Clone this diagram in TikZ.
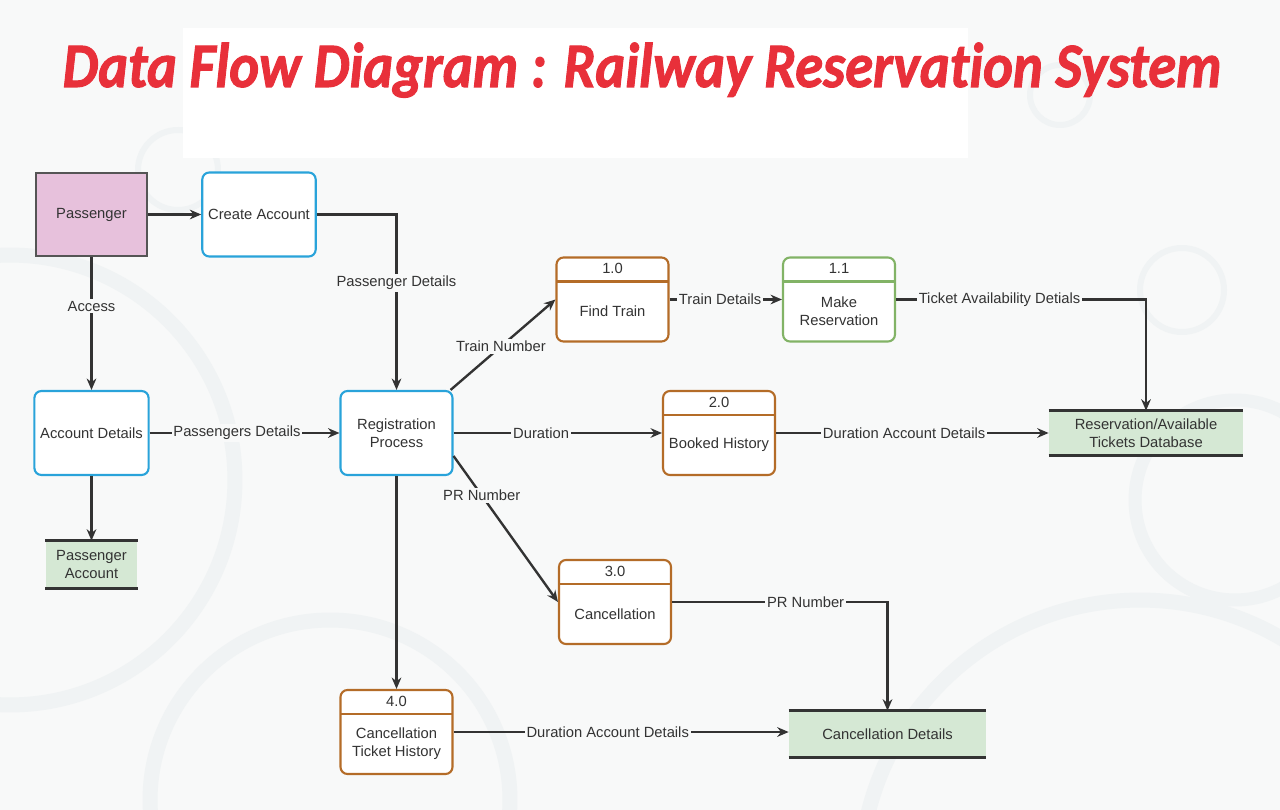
\documentclass[tikz,border=0pt]{standalone}
\usepackage{fontspec}
\setmainfont{Liberation Sans}
\newfontfamily\titlefont[Ligatures=NoCommon, FakeBold=1.6]{Carlito}
\usetikzlibrary{arrows.meta, positioning, calc}
\definecolor{pagebg}{RGB}{248, 249, 249}
\definecolor{ringcol}{RGB}{240, 243, 244}
\definecolor{titlered}{RGB}{232, 48, 58}
\definecolor{textcol}{RGB}{51, 51, 51}
\definecolor{arrowcol}{RGB}{51, 51, 51}
\definecolor{extfill}{RGB}{231, 193, 220}
\definecolor{extborder}{RGB}{85, 85, 85}
\definecolor{procblue}{RGB}{41, 163, 218}
\definecolor{procorange}{RGB}{180, 108, 40}
\definecolor{procgreen}{RGB}{130, 179, 102}
\definecolor{storefill}{RGB}{213, 232, 212}

\begin{document}
\begin{tikzpicture}[
    x=0.02cm, y=-0.02cm,
    >={Stealth[length=6.5pt, width=5.5pt]},
    font=\fontsize{8.4}{10.2}\selectfont,
    every node/.style={text=textcol},
    flow/.style={->, line width=1.35pt, draw=arrowcol},
    flowlabel/.style={fill=pagebg, inner sep=1pt},
    ring/.style={draw=ringcol, line width=#1},
    extentity/.style={rectangle, draw=extborder, fill=extfill, line width=1.2pt,
                      minimum width=2.22cm, minimum height=1.66cm, align=center},
    procbox/.style={rectangle, rounded corners=0.14cm, draw=procblue, fill=white,
                    line width=1.2pt, minimum width=2.24cm, minimum height=1.68cm,
                    align=center},
    numproc/.style={rectangle, rounded corners=0.14cm, draw=#1, fill=white,
                    line width=1.2pt, minimum width=2.24cm, minimum height=1.68cm,
                    path picture={
                      \draw[#1, line width=1.2pt]
                        ([yshift=-0.48cm]path picture bounding box.north west) --
                        ([yshift=-0.48cm]path picture bounding box.north east);
                    }},
    storebox/.style={rectangle, fill=storefill, align=center, inner sep=2pt},
    storeline/.style={draw=arrowcol, line width=1.4pt},
]

% ============================================================
% BACKGROUND
% ============================================================
\useasboundingbox (0,0) rectangle (1280,810);
\fill[pagebg] (0,0) rectangle (1280,810);
\begin{scope}
  \clip (0,0) rectangle (1280,810);
  \draw[ring=0.3cm] (10,480) circle (4.5cm);
  \draw[ring=0.3cm] (330,800) circle (3.6cm);
  \draw[ring=0.26cm] (1235,500) circle (2cm);
  \draw[ring=0.3cm] (1140,880) circle (5.6cm);
  \draw[ring=0.12cm] (178,170) circle (0.8cm);
  \draw[ring=0.12cm] (1182,290) circle (0.84cm);
  \draw[ring=0.12cm] (1060,95) circle (0.6cm);
\end{scope}
\fill[white] (183,28) rectangle (968,158);

% ============================================================
% TITLE
% ============================================================
\node[anchor=base, inner sep=0pt, text=titlered,
      font=\titlefont\bfseries\itshape] (title) at (642,87)
    {\resizebox{23.18cm}{!}{\scalebox{1}[1.12]{Data Flow Diagram : Railway Reservation System}}};

% ============================================================
% NODES
% ============================================================
\node[extentity] (pass) at (91.5,214.5) {Passenger};
\node[procbox] (creacc) at (259,214.5) {Create Account};
\node[procbox] (accdet) at (91.5,433) {Account Details};
\node[procbox] (regproc) at (396.5,433) {Registration\\Process};

\node[storebox, minimum width=1.84cm, minimum height=0.94cm] (passacc)
    at (91.5,564.5) {Passenger\\Account};
\node[storebox, minimum width=3.88cm, minimum height=0.88cm] (resdb)
    at (1146,433) {Reservation/Available\\Tickets Database};
\node[storebox, minimum width=3.94cm, minimum height=0.92cm] (canceldet)
    at (887.5,734) {Cancellation Details};

% numbered processes: box, number in header, name in body
\node[numproc=procorange] (findtrain) at (612.5,299.5) {};
\node (findnum) at ([yshift=-0.24cm]findtrain.north) {1.0};
\node (findname) at ([yshift=-0.24cm]findtrain.center) {Find Train};

\node[numproc=procgreen] (makeres) at (839,299.5) {};
\node (makenum) at ([yshift=-0.24cm]makeres.north) {1.1};
\node[align=center] (makename) at ([yshift=-0.24cm]makeres.center) {Make\\Reservation};

\node[numproc=procorange] (booked) at (719,433) {};
\node (booknum) at ([yshift=-0.24cm]booked.north) {2.0};
\node (bookname) at ([yshift=-0.24cm]booked.center) {Booked History};

\node[numproc=procorange] (cancel) at (615,602) {};
\node (cancelnum) at ([yshift=-0.24cm]cancel.north) {3.0};
\node (cancelname) at ([yshift=-0.24cm]cancel.center) {Cancellation};

\node[numproc=procorange] (cthist) at (396.5,732) {};
\node (cthnum) at ([yshift=-0.24cm]cthist.north) {4.0};
\node[align=center] (cthname) at ([yshift=-0.24cm]cthist.center) {Cancellation\\Ticket History};

% data store edges
\draw[storeline] (passacc.north west) -- (passacc.north east);
\draw[storeline] (passacc.south west) -- (passacc.south east);
\draw[storeline] (resdb.north west) -- (resdb.north east);
\draw[storeline] (resdb.south west) -- (resdb.south east);
\draw[storeline] (canceldet.north west) -- (canceldet.north east);
\draw[storeline] (canceldet.south west) -- (canceldet.south east);

% ============================================================
% FLOWS
% ============================================================
\draw[flow] (pass) -- (creacc);
\draw[flow] (creacc.east) -| (regproc.north)
    node[flowlabel, pos=0.695] {Passenger Details};
\draw[flow] (pass) -- (accdet)
    node[flowlabel, pos=0.37] {Access};
\draw[flow] (accdet) -- (regproc)
    node[flowlabel, pos=0.46] {Passengers Details};
\draw[flow] (accdet) -- (passacc);

\draw[flow] ([xshift=-0.06cm]regproc.north east) -- (findtrain.west)
    node[flowlabel, pos=0.48] {Train Number};
\draw[flow] (findtrain) -- (makeres)
    node[flowlabel, pos=0.45] {Train Details};
\draw[flow] (makeres.east) -| (resdb.north)
    node[flowlabel, pos=0.207] {Ticket Availability Detials};

\draw[flow] (regproc) -- (booked)
    node[flowlabel, pos=0.42] {Duration};
\draw[flow] (booked) -- (resdb)
    node[flowlabel, pos=0.47] {Duration Account Details};

\draw[flow] ([yshift=-0.46cm]regproc.east) -- (cancel.west)
    node[flowlabel, pos=0.27] {PR Number};
\draw[flow] (cancel.east) -| (canceldet.north)
    node[flowlabel, pos=0.31] {PR Number};

\draw[flow] (regproc) -- (cthist);
\draw[flow] (cthist.east) -- (cthist.east -| canceldet.west)
    node[flowlabel, pos=0.46] {Duration Account Details};

\end{tikzpicture}
\end{document}
